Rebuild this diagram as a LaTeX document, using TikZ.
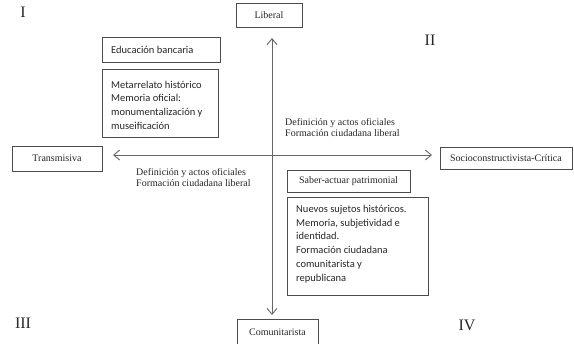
\documentclass[tikz,border=0pt]{standalone}
\usepackage{fontspec}
\setmainfont{Liberation Serif}
\newfontfamily\calib{Carlito}
\usetikzlibrary{arrows.meta}
\begin{document}
\begin{tikzpicture}[x=1bp,y=-1bp,
  box/.style={draw=black!70, line width=0.8bp, inner sep=0pt, text=black!85,
    font=\fontsize{10bp}{11.5bp}\selectfont},
  cbox/.style={draw=black!70, line width=0.8bp, inner sep=0pt},
  ctext/.style={inner sep=0pt, align=left, anchor=west, text=black!85,
    font=\calib\fontsize{10.5bp}{13.7bp}\selectfont},
  axis/.style={draw=black!60, line width=0.9bp, -{Straight Barb[length=6bp,width=10bp]}},
  lab/.style={font=\fontsize{10bp}{11bp}\selectfont, align=left, inner sep=0pt, anchor=west, text=black!85},
  num/.style={font=\fontsize{16bp}{16bp}\selectfont, inner sep=0pt, text=black!85}]
\useasboundingbox (0,0) rectangle (574,343);

% axis ends
\coordinate (c) at (272,155);
\coordinate (ttop) at (272,38);
\coordinate (tbot) at (272,315);
\coordinate (tleft) at (113,155);
\coordinate (tright) at (432,155);

% pole boxes
\node[box, minimum width=66bp, minimum height=24bp] (lib) at (269,15) {Liberal};
\node[box, minimum width=90bp, minimum height=25bp] (trans) at (57,158.5) {Transmisiva};
\node[box, minimum width=132bp, minimum height=22bp] (socio) at (506,158) {Socioconstructivista-Crítica};
\node[box, minimum width=81bp, minimum height=27bp] (comu) at (277.5,332.5) {Comunitarista};

% content boxes
\node[cbox, minimum width=118bp, minimum height=25bp] (edu) at (161,49.5) {};
\node[ctext] (eduT) at (111,49.5) {Educación bancaria};
\node[cbox, minimum width=116bp, minimum height=68bp] (meta) at (160,103) {};
\node[ctext] (metaT) at (111,105)
  {Metarrelato histórico\\Memoria oficial:\\monumentalización y\\museificación};
\node[box, minimum width=123bp, minimum height=22bp] (saber) at (348.5,181) {Saber-actuar patrimonial};
\node[cbox, minimum width=141bp, minimum height=98bp] (nuevos) at (357.5,246) {};
\node[ctext] (nuevosT) at (296,244)
  {Nuevos sujetos históricos.\\Memoria, subjetividad e\\identidad.\\Formación ciudadana\\comunitarista y\\republicana};

% axes
\draw[axis] (c) -- (ttop);
\draw[axis] (c) -- (tbot);
\draw[axis] (c) -- (tleft);
\draw[axis] (c) -- (tright);

% labels
\node[lab] (labA) at (285,128) {Definición y actos oficiales\\Formación ciudadana liberal};
\node[lab] (labB) at (136,178) {Definición y actos oficiales\\Formación ciudadana liberal};

% quadrant numerals
\node[num] (q1) at (23,12) {I};
\node[num] (q2) at (430,40) {II};
\node[num] (q3) at (23,323) {III};
\node[num] (q4) at (467,325) {IV};
\end{tikzpicture}
\end{document}
